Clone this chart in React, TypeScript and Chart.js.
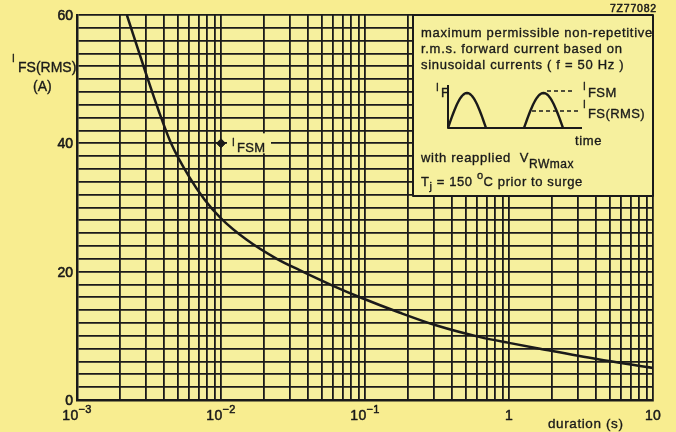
import React, { useEffect, useRef } from "react";
import { Chart, registerables } from "chart.js";

Chart.register(...registerables);

// ---------------- data ----------------
const durations = [0.00222, 0.003, 0.0037, 0.0045, 0.006, 0.0077, 0.01, 0.015, 0.0244, 0.0354, 0.06, 0.095, 0.175, 0.315, 0.63, 1, 1.64, 4.06, 10];
const currents = [60, 51, 45, 40, 34.8, 31.2, 28.3, 25.0, 22.0, 20.2, 17.8, 15.9, 13.6, 11.6, 9.8, 8.9, 8.0, 6.4, 5.0];

const fsmDurations = [0.01];
const fsmCurrents = [40];

const xMin = 0.001;
const xMax = 10;
const yMin = 0;
const yMax = 60;
const yGridStep = 2;
const yLabelValues = [0, 20, 40, 60];

const decadeValues = [0.001, 0.01, 0.1, 1, 10];
const decadeBase = ["10", "10", "10", "1", "10"];
const decadeExp = ["\u22123", "\u22122", "\u22121", "", ""];
const minorMultipliers = [1, 2, 3, 4, 5, 6, 7, 8, 9];

const xGridValues: number[] = [];
decadeValues.slice(0, -1).forEach((d) => minorMultipliers.forEach((m) => xGridValues.push(m * d)));
xGridValues.push(xMax);

const yGridValues: number[] = [];
for (let v = yMin; v <= yMax; v += yGridStep) yGridValues.push(v);

// ---------------- styles ----------------
const PAGE_BG = "#F8ED90";
const PLOT_BG = "#F6F09E";
const INK = "#1a1a1a";
const FONT = '"Liberation Sans", Arial, Helvetica, sans-serif';
const f = (size: number, weight = "normal") => `${weight} ${size}px ${FONT}`;

type Run = [string, number, number];
function drawRuns(ctx: any, x: number, y: number, parts: Run[], spacing = 0.6, heavy = 0.35) {
  let cx = x;
  ctx.lineWidth = heavy;
  ctx.lineJoin = "round";
  for (const [t, size, dy] of parts) {
    ctx.font = f(size);
    ctx.letterSpacing = spacing + "px";
    ctx.fillText(t, cx, y + dy);
    if (heavy > 0) ctx.strokeText(t, cx, y + dy);
    cx += ctx.measureText(t).width;
  }
  ctx.letterSpacing = "0px";
  return cx;
}

function hump(ctx: any, x0: number, x1: number, base: number, peak: number) {
  ctx.beginPath();
  const n = 30;
  for (let i = 0; i <= n; i++) {
    const t = i / n;
    const x = x0 + (x1 - x0) * t;
    const y = base - (base - peak) * Math.sin(Math.PI * t);
    if (i === 0) ctx.moveTo(x, y);
    else ctx.lineTo(x, y);
  }
  ctx.stroke();
}

const decorPlugin = {
  id: "decor",
  beforeDraw(chart: any) {
    const { ctx, chartArea: a, width, height } = chart;
    ctx.save();
    ctx.fillStyle = PAGE_BG;
    ctx.fillRect(0, 0, width, height);
    ctx.fillStyle = PLOT_BG;
    ctx.fillRect(a.left, a.top, a.right - a.left, a.bottom - a.top);
    ctx.restore();
  },
  afterDraw(chart: any) {
    const { ctx, chartArea: a } = chart;
    const xs = chart.scales.x;
    const ys = chart.scales.y;
    ctx.save();
    ctx.fillStyle = INK;
    ctx.strokeStyle = INK;
    ctx.textBaseline = "alphabetic";
    ctx.textAlign = "left";

    // y value labels
    yLabelValues.forEach((v) => {
      const py = ys.getPixelForValue(v);
      const s = String(v);
      ctx.font = f(14);
      const w = ctx.measureText(s).width;
      drawRuns(ctx, a.left - 4 - w, py + 5, [[s, 14, 0]], 0, 0.6);
    });

    // x decade labels
    decadeValues.forEach((v, i) => {
      const px = xs.getPixelForValue(v);
      ctx.font = f(14);
      ctx.letterSpacing = "0.3px";
      const wb = ctx.measureText(decadeBase[i]).width;
      ctx.font = f(11);
      const we = decadeExp[i] ? ctx.measureText(decadeExp[i]).width : 0;
      ctx.letterSpacing = "0px";
      const x0 = px - (wb + we) / 2;
      drawRuns(ctx, x0, a.bottom + 20, [[decadeBase[i], 14, 0], [decadeExp[i], 11, -7]], 0.3, 0.5);
    });

    // x title
    drawRuns(ctx, a.left + 471, a.bottom + 28, [["duration (s)", 13.5, 0]], 0.6);

    // y title
    drawRuns(ctx, 12, 62, [["I", 10, 0]], 0);
    drawRuns(ctx, 18, 72, [["FS(RMS)", 14, 0]], 0);
    drawRuns(ctx, 33, 91, [["(A)", 14, 0]], 0);

    // figure code
    ctx.textAlign = "right";
    drawRuns(ctx, a.right + 4, 12, [["7Z77082", 10.5, 0]], 0.8, 0.5);
    ctx.textAlign = "left";

    // I_FSM annotation next to marker
    const meta = chart.getDatasetMeta(1);
    const pt = meta.data[0];
    if (pt) {
      const mx = pt.x;
      const my = pt.y;
      ctx.fillStyle = PLOT_BG;
      ctx.fillRect(mx + 6, my - 10, 44, 20);
      ctx.fillStyle = INK;
      drawRuns(ctx, mx + 11, my + 3, [["I", 10, 0]], 0);
      drawRuns(ctx, mx + 16, my + 9, [["FSM", 13, 0]], 0.3);
    }

    // inset box
    const bx = a.left + 336;
    const by = a.top;
    const bw = a.right - bx;
    const bh = 181;
    ctx.fillStyle = PLOT_BG;
    ctx.fillRect(bx, by, bw, bh);
    ctx.lineWidth = 2;
    ctx.strokeRect(bx, by, bw, bh);
    ctx.fillStyle = INK;

    drawRuns(ctx, bx + 8, by + 22, [["maximum permissible non-repetitive", 13, 0]], 0.7);
    drawRuns(ctx, bx + 8, by + 38, [["r.m.s. forward current based on", 13, 0]], 0.7);
    drawRuns(ctx, bx + 8, by + 54, [["sinusoidal currents ( f = 50 Hz )", 13, 0]], 0.7);

    // waveform sketch
    ctx.lineWidth = 2;
    ctx.beginPath();
    ctx.moveTo(bx + 35, by + 70);
    ctx.lineTo(bx + 35, by + 113);
    ctx.lineTo(bx + 169, by + 113);
    ctx.stroke();
    ctx.lineWidth = 2.4;
    hump(ctx, bx + 35, bx + 73, by + 113, by + 78);
    hump(ctx, bx + 111, bx + 150, by + 113, by + 78);
    ctx.lineWidth = 1.3;
    ctx.setLineDash([4, 3]);
    ctx.beginPath();
    ctx.moveTo(bx + 134, by + 76);
    ctx.lineTo(bx + 162, by + 76);
    ctx.moveTo(bx + 119, by + 96);
    ctx.lineTo(bx + 165, by + 96);
    ctx.stroke();
    ctx.setLineDash([]);

    drawRuns(ctx, bx + 23, by + 76, [["I", 10, 0]], 0);
    drawRuns(ctx, bx + 28, by + 82, [["F", 13, 0]], 0);
    drawRuns(ctx, bx + 170, by + 75, [["I", 10, 0]], 0);
    drawRuns(ctx, bx + 175, by + 82, [["FSM", 13, 0]], 0.4);
    drawRuns(ctx, bx + 170, by + 93, [["I", 10, 0]], 0);
    drawRuns(ctx, bx + 175, by + 103, [["FS(RMS)", 13, 0]], 0.4);
    drawRuns(ctx, bx + 162, by + 130, [["time", 13, 0]], 0.6);

    const vEnd = drawRuns(ctx, bx + 8, by + 147, [["with reapplied  V", 13, 0]], 0.7);
    drawRuns(ctx, vEnd, by + 153, [["RWmax", 12, 0]], 0.5);
    drawRuns(
      ctx,
      bx + 8,
      by + 171,
      [
        ["T", 13, 0],
        ["j", 11, 4],
        [" = 150 ", 13, 0],
        ["o", 11, -7],
        ["C prior to surge", 13, 0],
      ],
      0.6
    );

    ctx.restore();
  },
};

export default function App() {
  const ref = useRef<HTMLCanvasElement | null>(null);

  useEffect(() => {
    document.body.style.margin = "0";
    document.body.style.background = PAGE_BG;
    const canvas = ref.current;
    if (!canvas) return;

    const chart = new Chart(canvas, {
      type: "line",
      data: {
        datasets: [
          {
            data: durations.map((d, i) => ({ x: d, y: currents[i] })),
            borderColor: INK,
            borderWidth: 2.5,
            pointRadius: 0,
            cubicInterpolationMode: "monotone",
            fill: false,
          },
          {
            data: fsmDurations.map((d, i) => ({ x: d, y: fsmCurrents[i] })),
            showLine: false,
            pointStyle: "rectRot",
            pointRadius: 4.5,
            backgroundColor: INK,
            borderColor: INK,
            borderWidth: 1,
          },
        ],
      },
      options: {
        responsive: false,
        animation: false,
        devicePixelRatio: 1,
        layout: { padding: { top: 15, right: 23, left: 0, bottom: 0 } },
        plugins: { legend: { display: false }, tooltip: { enabled: false } },
        scales: {
          x: {
            type: "logarithmic",
            min: xMin,
            max: xMax,
            afterBuildTicks: (s: any) => {
              s.ticks = xGridValues.map((v) => ({ value: v }));
            },
            afterFit: (s: any) => {
              s.height = 32;
            },
            ticks: { autoSkip: false, maxRotation: 0, callback: () => "" },
            grid: { color: INK, lineWidth: 1.8, drawTicks: false },
            border: { color: INK, width: 2.5 },
          },
          y: {
            type: "linear",
            min: yMin,
            max: yMax,
            afterBuildTicks: (s: any) => {
              s.ticks = yGridValues.map((v) => ({ value: v }));
            },
            afterFit: (s: any) => {
              s.width = 77;
            },
            ticks: { autoSkip: false, callback: () => "" },
            grid: { color: INK, lineWidth: 1.8, drawTicks: false },
            border: { color: INK, width: 2.5 },
          },
        },
      },
      plugins: [decorPlugin],
    } as any);

    return () => chart.destroy();
  }, []);

  return (
    <div style={{ width: 676, height: 432 }}>
      <canvas ref={ref} width={676} height={432} style={{ display: "block", width: 676, height: 432 }} />
    </div>
  );
}
